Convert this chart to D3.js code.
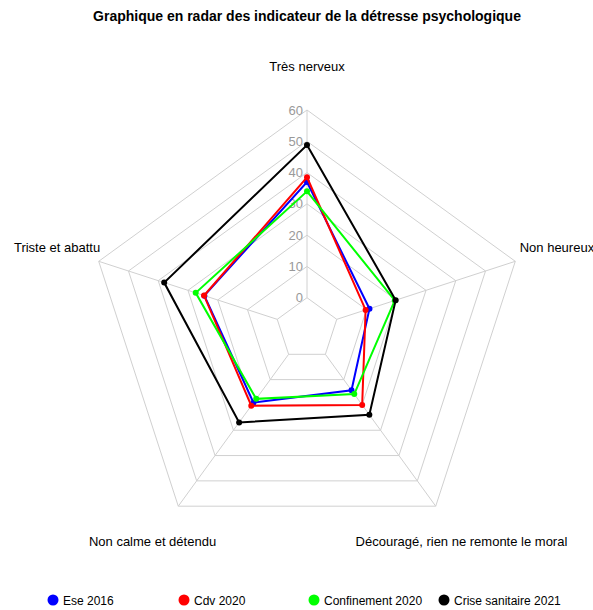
<!DOCTYPE html>
<html>
<head>
<meta charset="utf-8">
<script src="https://cdn.jsdelivr.net/npm/d3@7"></script>
<style>
body{margin:0;background:#fff;}
svg{display:block;font-family:"Liberation Sans",Arial,sans-serif;}
</style>
</head>
<body>
<svg id="chart" width="593" height="610"></svg>
<script>
const axesLabels = ["Très nerveux","Non heureux","Découragé, rien ne remonte le moral","Non calme et détendu","Triste et abattu"];
const seriesNames = ["Ese 2016","Cdv 2020","Confinement 2020","Crise sanitaire 2021"];
const seriesColors = ["#0000ff","#ff0000","#00ff00","#000000"];
const ese2016 = [37, 11, 14.2, 19.1, 24.5];
const cdv2020 = [38.5, 9.7, 20, 20.3, 24.6];
const confinement2020 = [34, 19.5, 15.7, 17.6, 27.4];
const crise2021 = [48.8, 19.8, 23.9, 26.9, 38];
const tickValues = [0,10,20,30,40,50,60];
const seriesValues = [ese2016, cdv2020, confinement2020, crise2021];

const svg = d3.select("#chart");
const cx = 307, cy = 329, R = 219;
const r = d3.scaleLinear().domain([-10, 60]).range([0, R]);
const n = axesLabels.length;
const ang = i => -Math.PI/2 + i*2*Math.PI/n;
const pt = (i, v) => [cx + r(v)*Math.cos(ang(i)), cy + r(v)*Math.sin(ang(i))];

// grid rings
const g = svg.append("g");
tickValues.forEach(t => {
  const pts = d3.range(n).map(i => pt(i, t));
  g.append("polygon").attr("points", pts.map(p => p.join(",")).join(" "))
    .attr("fill","none").attr("stroke","#d0d0d0").attr("stroke-width",1);
});
// spokes
d3.range(n).forEach(i => {
  const a = pt(i, 0), b = pt(i, 60);
  g.append("line").attr("x1",a[0]).attr("y1",a[1]).attr("x2",b[0]).attr("y2",b[1])
    .attr("stroke","#d0d0d0").attr("stroke-width",1);
});
// tick labels
tickValues.forEach(t => {
  svg.append("text").attr("x", cx-4).attr("y", cy - r(t)).attr("dy","0.35em")
    .attr("text-anchor","end").attr("font-size",13).attr("fill","#999999").text(t);
});
// axis labels
axesLabels.forEach((l,i) => {
  const x = cx + 1.2*R*Math.cos(ang(i)), y = cy + 1.2*R*Math.sin(ang(i));
  svg.append("text").attr("x", x).attr("y", y).attr("dy","0.35em")
    .attr("text-anchor","middle").attr("font-size",13).attr("fill","#000").text(l);
});
// series
const line = d3.line().curve(d3.curveLinearClosed);
seriesValues.forEach((vals, s) => {
  const pts = vals.map((v,i) => pt(i, v));
  svg.append("path").attr("d", line(pts)).attr("fill","none")
    .attr("stroke", seriesColors[s]).attr("stroke-width",2);
  pts.forEach(p => svg.append("circle").attr("cx",p[0]).attr("cy",p[1]).attr("r",3)
    .attr("fill", seriesColors[s]));
});
// title
svg.append("text").attr("x", 307).attr("y", 21).attr("text-anchor","middle")
  .attr("font-size",14).attr("font-weight","bold").text("Graphique en radar des indicateur de la détresse psychologique");
// legend
const legendX = [53, 184, 314, 444];
seriesNames.forEach((nm, s) => {
  svg.append("circle").attr("cx", legendX[s]).attr("cy", 600).attr("r", 5.5).attr("fill", seriesColors[s]);
  svg.append("text").attr("x", legendX[s]+10).attr("y", 601).attr("dy","0.35em")
    .attr("font-size",12).text(nm);
});
</script>
</body>
</html>
